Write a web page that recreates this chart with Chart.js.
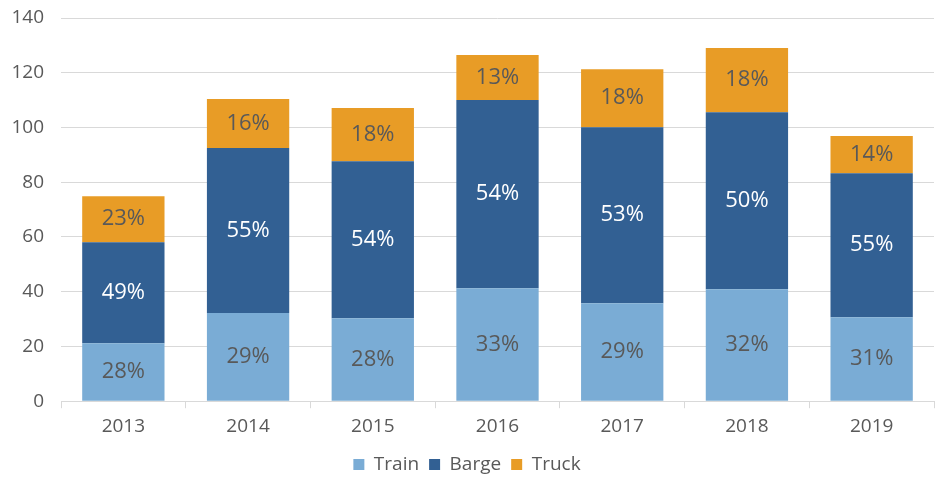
<!DOCTYPE html>
<html>
<head>
<meta charset="utf-8">
<script src="https://cdn.jsdelivr.net/npm/chart.js@4.4.1/dist/chart.umd.min.js"></script>
<style>
  html, body { margin: 0; padding: 0; background: #ffffff; }
  #wrap { width: 949px; height: 486px; position: relative; }
</style>
</head>
<body>
<div id="wrap"><canvas id="c"></canvas></div>
<script>
const years = ['2013', '2014', '2015', '2016', '2017', '2018', '2019'];
const trainValues = [21.2, 32.2, 30.3, 41.3, 35.8, 40.9, 30.7];
const bargeValues = [36.9, 60.3, 57.4, 68.7, 64.3, 64.7, 52.6];
const truckValues = [16.8, 17.9, 19.4, 16.5, 21.2, 23.4, 13.6];
const trainLabels = ['28%', '29%', '28%', '33%', '29%', '32%', '31%'];
const bargeLabels = ['49%', '55%', '54%', '54%', '53%', '50%', '55%'];
const truckLabels = ['23%', '16%', '18%', '13%', '18%', '18%', '14%'];
const yTicks = [0, 20, 40, 60, 80, 100, 120, 140];

const FONT = "'Open Sans', 'DejaVu Sans', sans-serif";
const TEXT = '#595959';

const segLabels = {
  id: 'segLabels',
  afterDatasetsDraw(chart) {
    const ctx = chart.ctx;
    ctx.save();
    ctx.font = '22px ' + FONT;
    ctx.textAlign = 'center';
    ctx.textBaseline = 'middle';
    chart.data.datasets.forEach((ds, i) => {
      const meta = chart.getDatasetMeta(i);
      meta.data.forEach((bar, j) => {
        const y = (bar.y + bar.base) / 2;
        ctx.fillStyle = ds.labelColor;
        ctx.fillText(ds.segLabels[j], bar.x, y);
      });
    });
    ctx.restore();
  }
};

new Chart(document.getElementById('c'), {
  type: 'bar',
  data: {
    labels: years,
    datasets: [
      { label: 'Train', data: trainValues, backgroundColor: '#7aacd5', segLabels: trainLabels, labelColor: TEXT },
      { label: 'Barge', data: bargeValues, backgroundColor: '#326093', segLabels: bargeLabels, labelColor: '#ffffff' },
      { label: 'Truck', data: truckValues, backgroundColor: '#e89c26', segLabels: truckLabels, labelColor: TEXT }
    ]
  },
  options: {
    responsive: true,
    maintainAspectRatio: false,
    animation: false,
    devicePixelRatio: 1,
    layout: { padding: { top: 18, right: 15, left: 0, bottom: 2 } },
    datasets: { bar: { categoryPercentage: 0.66, barPercentage: 1.0, borderWidth: 0 } },
    plugins: {
      legend: {
        position: 'bottom',
        labels: {
          color: TEXT,
          font: { family: FONT, size: 19 },
          boxWidth: 11,
          boxHeight: 11,
          padding: 10
        }
      },
      tooltip: { enabled: false }
    },
    scales: {
      x: {
        stacked: true,
        grid: { display: true, drawOnChartArea: false, offset: true, color: '#d9d9d9', tickLength: 7 },
        border: { color: '#d9d9d9' },
        ticks: { color: TEXT, font: { family: FONT, size: 19 }, padding: 7 }
      },
      y: {
        stacked: true,
        min: 0,
        max: 140,
        afterBuildTicks(scale) { scale.ticks = yTicks.map(v => ({ value: v })); },
        afterFit(scale) { scale.width = 61; scale.paddingTop = 0; scale.paddingBottom = 0; },
        grid: { color: '#d9d9d9', drawTicks: false },
        border: { display: false },
        ticks: { color: TEXT, font: { family: FONT, size: 19 }, padding: 17 }
      }
    }
  },
  plugins: [segLabels]
});
</script>
</body>
</html>
